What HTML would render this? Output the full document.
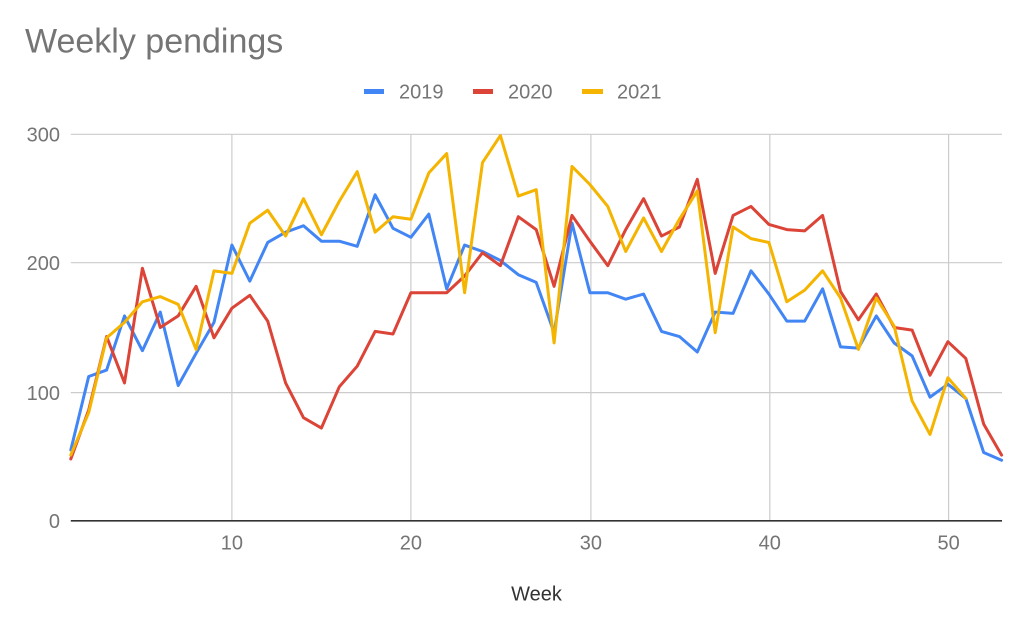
<!DOCTYPE html>
<html>
<head>
<meta charset="utf-8">
<style>
  html,body{margin:0;padding:0;background:#fff;}
  body{width:1024px;height:630px;overflow:hidden;}
  svg{display:block;}
  text{font-family:"Liberation Sans", Arial, sans-serif;}
</style>
</head>
<body>
<svg width="1024" height="630" viewBox="0 0 1024 630" xmlns="http://www.w3.org/2000/svg">
  <rect width="1024" height="630" fill="#ffffff"/>
  <!-- Title -->
  <text x="25" y="52.5" font-size="34" fill="#757575">Weekly pendings</text>

  <!-- Legend -->
  <rect x="364" y="89" width="20" height="5" fill="#4285F4"/>
  <text x="399" y="98.3" font-size="20" fill="#757575">2019</text>
  <rect x="473" y="89" width="20" height="5" fill="#DB4437"/>
  <text x="508" y="98.3" font-size="20" fill="#757575">2020</text>
  <rect x="582" y="89" width="21" height="5" fill="#F4B400"/>
  <text x="617" y="98.3" font-size="20" fill="#757575">2021</text>

  <!-- Horizontal gridlines -->
  <g stroke="#cccccc" stroke-width="1.2">
    <line x1="70.8" y1="134.3" x2="1002" y2="134.3"/>
    <line x1="70.8" y1="262.7" x2="1002" y2="262.7"/>
    <line x1="70.8" y1="392.6" x2="1002" y2="392.6"/>
    <!-- Vertical gridlines -->
    <line x1="231.9" y1="134.3" x2="231.9" y2="520.8"/>
    <line x1="410.9" y1="134.3" x2="410.9" y2="520.8"/>
    <line x1="590.9" y1="134.3" x2="590.9" y2="520.8"/>
    <line x1="769.8" y1="134.3" x2="769.8" y2="520.8"/>
    <line x1="948.6" y1="134.3" x2="948.6" y2="520.8"/>
  </g>

  <!-- Y axis labels -->
  <g font-size="20" fill="#757575" text-anchor="end">
    <text x="60" y="141.6">300</text>
    <text x="60" y="270">200</text>
    <text x="60" y="399.9">100</text>
    <text x="60" y="528">0</text>
  </g>

  <!-- X axis labels -->
  <g font-size="20" fill="#757575" text-anchor="middle">
    <text x="231.9" y="549.3">10</text>
    <text x="410.9" y="549.3">20</text>
    <text x="590.9" y="549.3">30</text>
    <text x="769.8" y="549.3">40</text>
    <text x="948.6" y="549.3">50</text>
  </g>
  <text x="536.5" y="600.7" font-size="20" fill="#333333" text-anchor="middle">Week</text>

  <!-- Series -->
  <g transform="translate(70.8,520.8) scale(17.9,-1.2885)" fill="none" stroke-linejoin="round" stroke-linecap="round">
    <polyline vector-effect="non-scaling-stroke" stroke="#4285F4" stroke-width="3"
      points="0,55 1,112 2,117 3,159 4,132 5,162 6,105 7,130 8,154 9,214 10,186 11,216 12,224 13,229 14,217 15,217 16,213 17,253 18,227 19,220 20,238 21,180 22,214 23,209 24,202 25,191 26,185 27,146 28,231 29,177 30,177 31,172 32,176 33,147 34,143 35,131 36,162 37,161 38,194 39,176 40,155 41,155 42,180 43,135 44,134 45,159 46,138 47,128 48,96 49,106 50,95 51,53 52,47"/>
    <polyline vector-effect="non-scaling-stroke" stroke="#DB4437" stroke-width="3"
      points="0,48 1,86 2,143 3,107 4,196 5,150 6,159 7,182 8,142 9,165 10,175 11,155 12,107 13,80 14,72 15,104 16,120 17,147 18,145 19,177 20,177 21,177 22,190 23,208 24,198 25,236 26,226 27,182 28,237 29,217 30,198 31,226 32,250 33,221 34,228 35,265 36,192 37,237 38,244 39,230 40,226 41,225 42,237 43,178 44,156 45,176 46,150 47,148 48,113 49,139 50,126 51,75 52,51"/>
    <polyline vector-effect="non-scaling-stroke" stroke="#F4B400" stroke-width="3"
      points="0,51 1,84 2,142 3,154 4,170 5,174 6,168 7,133 8,194 9,192 10,231 11,241 12,221 13,250 14,222 15,248 16,271 17,224 18,236 19,234 20,270 21,285 22,177 23,278 24,299 25,252 26,257 27,138 28,275 29,261 30,244 31,209 32,235 33,209 34,234 35,256 36,146 37,228 38,219 39,216 40,170 41,179 42,194 43,173 44,133 45,173 46,151 47,93 48,67 49,111 50,95"/>
  </g>

  <!-- X axis baseline -->
  <line x1="70.8" y1="520.8" x2="1002" y2="520.8" stroke="#333333" stroke-width="1.6"/>
</svg>
</body>
</html>
